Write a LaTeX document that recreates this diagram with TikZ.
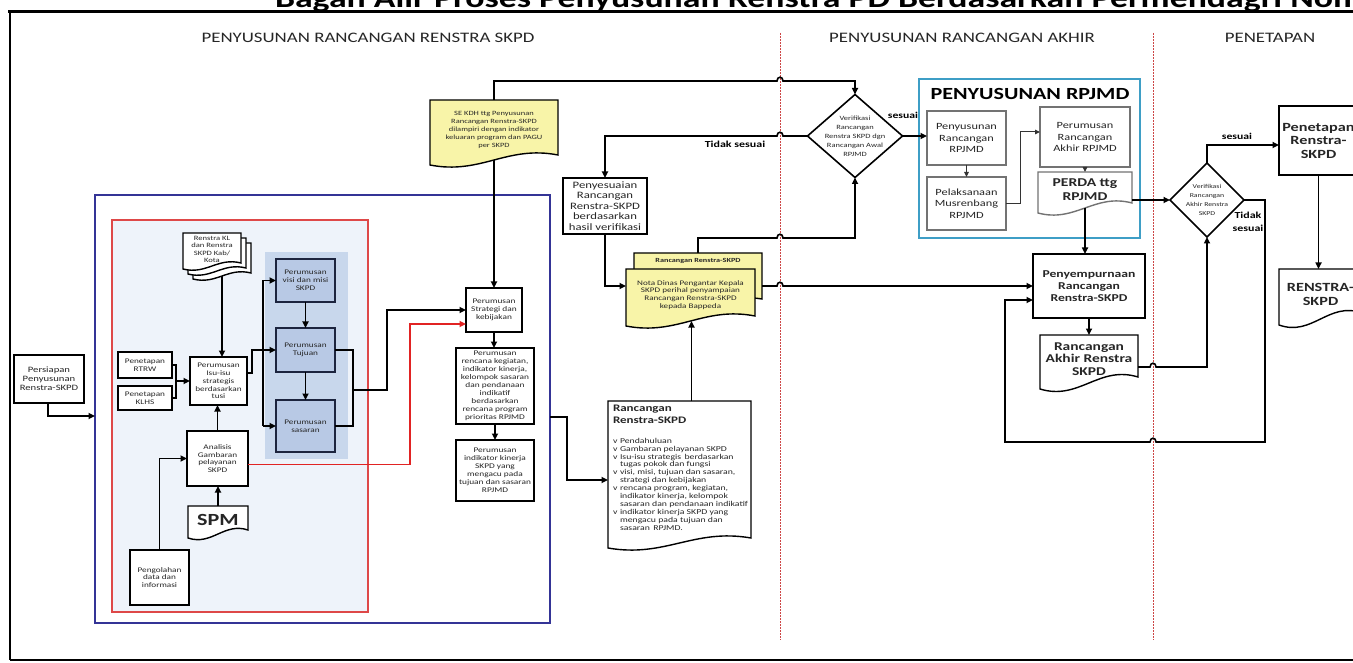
\documentclass[tikz,border=0pt]{standalone}
\usepackage{fontspec}
\setmainfont{Carlito}[FakeStretch=1.3]
\usetikzlibrary{calc,arrows.meta}
\definecolor{navy}{RGB}{52,52,150}
\definecolor{boxred}{RGB}{222,72,72}
\definecolor{redfill}{RGB}{238,243,250}
\definecolor{panelc}{RGB}{200,215,236}
\definecolor{darkbox}{RGB}{184,201,229}
\definecolor{darkedge}{RGB}{28,36,62}
\definecolor{docyellow}{RGB}{248,244,168}
\definecolor{tealc}{RGB}{62,158,198}
\definecolor{divred}{RGB}{205,70,70}
\definecolor{arrred}{RGB}{225,35,35}
\newcommand\fsz[2]{\fontsize{#1}{#2}\selectfont}
\newcommand\docshape[4][black]{%
  \filldraw[fill=#3, draw=#1, line width=1.4pt, line join=miter]
    (#2.north west) -- (#2.north east) -- ($(#2.south east)+(0,-#4)$)
    .. controls ($(#2.south east)!0.4!(#2.south west)+(0,-3*#4)$)
    and ($(#2.south west)!0.4!(#2.south east)+(0,3*#4)$)
    .. ($(#2.south west)+(0,#4)$) -- cycle;}
\pgfdeclarelayer{L0}
\pgfdeclarelayer{L1}
\pgfsetlayers{L0,L1,main}
\begin{document}
\begin{tikzpicture}[x=1pt,y=-1pt,
  every node/.style={inner sep=0pt, outer sep=0pt, text=black!85},
  sz/.style 2 args={minimum width=#1, minimum height=#2},
  ln/.style={line width=1.6pt, line join=miter},
  arr/.style={ln, -{Triangle[length=6.5pt,width=6pt]}},
  tarr/.style={line width=1pt, draw=black!80, -{Triangle[length=5pt,width=4.5pt]}},
  bx/.style={draw=black, line width=1.6pt, fill=white, align=center},
  dk/.style={draw=darkedge, line width=1.8pt, fill=darkbox, align=center},
  gbx/.style={draw=black!55, line width=1.1pt, fill=white, align=center},
  dc/.style={align=center},
  small/.style={font=\fsz{7.1}{7.8}},
  mid/.style={font=\fsz{7.2}{8}},
  rp/.style={font=\fsz{9.5}{11.5}},
  lbl/.style={font=\bfseries\fsz{9}{10}, text=black}
]
\useasboundingbox (0,0) rectangle (1353,663);
\clip (0,0) rectangle (1353,663);

% title and frame
\node[anchor=base west, font=\bfseries\fsz{27.5}{30}, text=black] (title) at (275,8) {Bagan Alir Proses Penyusunan Renstra PD Berdasarkan Permendagri Nom};
\draw[line width=3pt] (8,12) -- (1365,12);
\draw[line width=2.5pt] (10,11) -- (10,660);
\draw[line width=1.2pt] (10,660) -- (1365,660);

% section headers
\node[font=\fsz{14.5}{17}] (h1) at (368,38) {PENYUSUNAN RANCANGAN RENSTRA SKPD};
\node[font=\fsz{14.5}{17}] (h2) at (962,38) {PENYUSUNAN RANCANGAN AKHIR};
\node[font=\fsz{14.5}{17}] (h3) at (1270,38) {PENETAPAN};

% dividers
\draw[divred, line width=0.8pt, dash pattern=on 2pt off 1pt] (780,33) -- (780,640);
\draw[divred, line width=0.8pt, dash pattern=on 2pt off 1pt] (1153,33) -- (1153,640);

% containers
\begin{pgfonlayer}{L0}
\node[draw=navy, line width=1.6pt, fill=white, sz={455}{428}] (bluebox) at (322.5,409) {};
\node[draw=boxred, line width=1.4pt, fill=redfill, sz={256}{392}] (redbox) at (240,416) {};
\node[fill=panelc, sz={83}{207}] (panel) at (306.5,355.5) {};
\node[draw=tealc, line width=2pt, fill=white, sz={221}{159}] (rpjmdbox) at (1029.5,158.5) {};
\end{pgfonlayer}

% ---------- left part ----------
\node[bx, sz={70}{48}, font=\fsz{8.2}{8.8}] (persiapan) at (49,379) {Persiapan\\Penyusunan\\Renstra-SKPD};
\node[bx, small, sz={54}{26}] (rtrw) at (145,365) {Penetapan\\RTRW};
\node[bx, small, sz={54}{24}] (klhs) at (145,398) {Penetapan\\KLHS};
\node[bx, small, sz={57}{48}] (isu) at (218.5,381) {Perumusan\\Isu-isu\\strategis\\berdasarkan\\tusi};
\node[bx, small, sz={61}{55}] (analisis) at (217.5,458.5) {Analisis\\Gambaran\\pelayanan\\SKPD};
\node[bx, small, sz={59}{55}] (pengolahan) at (159.5,577.5) {Pengolahan\\data dan\\informasi};
\node[dk, small, sz={59}{43}] (visi) at (305.5,280.5) {Perumusan\\visi dan misi\\SKPD};
\node[dk, small, sz={59}{44}] (tujuan) at (305.5,350) {Perumusan\\Tujuan};
\node[dk, small, sz={59}{52}] (sasaran) at (305.5,426) {Perumusan\\sasaran};

% documents (shapes on layer L1)
\node[sz={58}{33}] (kl1) at (222,259.5) {};
\node[sz={58}{33}] (kl2) at (217,254.5) {};
\node[dc, font=\fsz{6.6}{7.6}, sz={58}{33}] (kl) at (212,249.5) {Renstra KL\\dan Renstra\\SKPD Kab/\\Kota};
\node[dc, sz={60}{28}, font=\bfseries\fsz{17}{18}] (spm) at (218,520) {SPM};
\node[dc, sz={128}{60}, font=\fsz{6.5}{7.9}] (sekdh) at (494,130) {SE KDH ttg Penyusunan\\Rancangan Renstra-SKPD\\dilampiri dengan indikator\\keluaran program dan PAGU\\per SKPD};
\node[sz={128}{50}] (rrback) at (698,278) {};
\node[font=\bfseries\fsz{6.3}{7}, anchor=north] (rrbacklbl) at ($(rrback.north)+(0,5)$) {Rancangan Renstra-SKPD};
\node[dc, sz={129}{52}, font=\fsz{7}{7.8}] (nota) at (690.5,295) {Nota Dinas Pengantar Kepala\\SKPD perihal penyampaian\\Rancangan Renstra-SKPD\\kepada Bappeda};
\node[sz={143}{142}] (rrdoc) at (679.5,472) {};
\node[anchor=north west, align=left, font=\bfseries\fsz{10}{12}] (rrtitle) at ($(rrdoc.north west)+(5,4)$) {Rancangan\\Renstra-SKPD};
\node[anchor=north west, align=left, font=\fsz{7.5}{7.9}] (rrlist) at ($(rrdoc.north west)+(5,37)$) {\makebox[7pt][l]{v}Pendahuluan\\
\makebox[7pt][l]{v}Gambaran pelayanan SKPD\\
\makebox[7pt][l]{v}Isu-isu strategis\, berdasarkan\\
\hspace*{7pt}tugas pokok dan fungsi\\
\makebox[7pt][l]{v}visi, misi, tujuan dan sasaran,\\
\hspace*{7pt}strategi dan kebijakan\\
\makebox[7pt][l]{v}rencana program, kegiatan,\\
\hspace*{7pt}indikator kinerja, kelompok\\
\hspace*{7pt}sasaran dan pendanaan indikatif\\
\makebox[7pt][l]{v}indikator kinerja SKPD yang\\
\hspace*{7pt}mengacu pada tujuan dan\\
\hspace*{7pt}sasaran\, RPJMD.};
\node[dc, sz={94}{36}, font=\bfseries\fsz{12}{14}] (perda) at (1085,190) {PERDA ttg\\RPJMD};
\node[dc, sz={98}{48}, font=\bfseries\fsz{11.9}{12.5}] (rakhir) at (1089,359) {Rancangan\\Akhir Renstra\\SKPD};
\node[dc, sz={83}{50}, font=\bfseries\fsz{12.5}{14}] (renstra) at (1320.5,294) {RENSTRA-\\SKPD};
\node[dc, sz={95}{83}, font=\fsz{6.5}{9}] (d1) at (855,136) {Verifikasi\\Rancangan\\Renstra SKPD dgn\\Rancangan Awal\\RPJMD};
\node[dc, sz={74}{74}, font=\fsz{6}{9}] (d2) at (1207,200) {Verifikasi\\Rancangan\\Akhir Renstra\\SKPD};

\begin{pgfonlayer}{L1}
\docshape{kl1}{white}{3}
\docshape{kl2}{white}{3}
\docshape{kl}{white}{3}
\docshape{spm}{white}{4}
\docshape{sekdh}{docyellow}{5}
\docshape{rrback}{docyellow}{4}
\docshape{nota}{docyellow}{5}
\docshape{rrdoc}{white}{5}
\docshape[black!55]{perda}{white}{5}
\docshape{rakhir}{white}{6}
\docshape{renstra}{white}{6}
\filldraw[fill=white, draw=black, line width=1.6pt] (d1.north) -- (d1.east) -- (d1.south) -- (d1.west) -- cycle;
\filldraw[fill=white, draw=black, line width=1.6pt] (d2.north) -- (d2.east) -- (d2.south) -- (d2.west) -- cycle;
\end{pgfonlayer}

% ---------- middle column ----------
\node[bx, mid, sz={56}{44}] (strategi) at (494,310) {Perumusan\\Strategi dan\\kebijakan};
\node[bx, mid, sz={78}{76}] (rencana) at (495,386) {Perumusan\\rencana kegiatan,\\indikator kinerja,\\kelompok sasaran\\dan pendanaan\\indikatif\\berdasarkan\\rencana program\\prioritas RPJMD};
\node[bx, mid, sz={78}{61}] (indikator) at (495,470.5) {Perumusan\\indikator kinerja\\SKPD yang\\mengacu pada\\tujuan dan sasaran\\RPJMD};
\node[bx, sz={84}{56}, font=\fsz{9.8}{10.5}] (penyesuaian) at (605,206) {Penyesuaian\\Rancangan\\Renstra-SKPD\\berdasarkan\\hasil verifikasi};

% ---------- RPJMD ----------
\node[font=\bfseries\fsz{17}{20}, text=black] (rpjmdtitle) at (1030,94) {PENYUSUNAN RPJMD};
\node[gbx, rp, sz={79}{54}] (penyran) at (966.5,138) {Penyusunan\\Rancangan\\RPJMD};
\node[gbx, rp, sz={79}{53}] (musren) at (966.5,203.5) {Pelaksanaan\\Musrenbang\\RPJMD};
\node[gbx, rp, sz={90}{60}] (perumakhir) at (1085,137) {Perumusan\\Rancangan\\Akhir RPJMD};
\node[bx, sz={112}{64}, font=\bfseries\fsz{10.5}{12}] (penyempurnaan) at (1089,286) {Penyempurnaan\\Rancangan\\Renstra-SKPD};
\node[bx, sz={79}{69}, font=\bfseries\fsz{12.5}{13.5}] (penetapan) at (1318.5,140.5) {Penetapan\\Renstra-\\SKPD};

% labels
\node[font=\bfseries\fsz{9.2}{10}, text=black] (lbltidak1) at (735,144) {Tidak sesuai};
\node[lbl] (lblsesuai1) at (903,115) {sesuai};
\node[lbl] (lblsesuai2) at (1237,136) {sesuai};
\node[font=\bfseries\fsz{9.2}{13}, align=center, text=black] (lbltidak2) at (1248,222) {Tidak\\sesuai};

% ---------- connectors ----------
\coordinate (pin) at (95,416);
\draw[arr] ($(persiapan.south)+(-1,0)$) |- (pin);
\draw[ln] (rtrw.east) -- ++(4,0) |- (klhs.east);
\coordinate (m1) at (176,381);
\draw[arr] (m1) -- (isu.west);
\draw[arr] (kl1.south) -- (kl1.south |- isu.north);
\draw[arr] (analisis.north) -- (analisis.north |- isu.south);
\draw[arr] (spm.north) -- (spm.north |- analisis.south);
\draw[arr] (pengolahan.north) |- (analisis.west);
\coordinate (bx) at (263,0);
\draw[ln] ($(isu.east)+(0,-8)$) -- ++(5,0) |- (tujuan.west -| bx);
\draw[ln] (visi.west -| bx) -- (sasaran.west -| bx);
\draw[arr] (visi.west -| bx) -- (visi.west);
\draw[arr] (tujuan.west -| bx) -- (tujuan.west);
\draw[arr] (sasaran.west -| bx) -- (sasaran.west);
\draw[arr] (visi.south) -- (tujuan.north);
\draw[arr] (tujuan.south) -- (sasaran.north);
\draw[ln] (tujuan.east) -- ++(18,0) |- (sasaran.east);
\coordinate (j1) at (353,390);
\draw[arr] (j1) -- ++(34,0) |- (strategi.west);
\draw[arr, draw=arrred] ($(analisis.east)+(0,6)$) -- ++(162,0) |- ($(strategi.west)+(0,14)$);

\draw[arr] (sekdh.north) -- ++(0,-19) -- (777,81) .. controls (777,76) and (783,76) .. (783,81) -| (d1.north);
\draw[arr] (sekdh.south) -- (sekdh.south |- strategi.north);
\draw[arr] (strategi.south) -- (strategi.south |- rencana.north);
\draw[arr] (rencana.south) -- (rencana.south |- indikator.north);
\coordinate (bout) at (550,417);
\draw[arr] (bout) -- ++(17,0) |- ($(rrdoc.west)+(0,8)$);
\draw[arr] ($(rrdoc.north)+(12,0)$) -- ($(nota.south)+(1,0)$);
\draw[arr] (d1.west) -- (783,136) .. controls (783,131) and (777,131) .. (777,136) -| (penyesuaian.north);
\draw[arr] (penyesuaian.south) |- ($(nota.west)+(0,-9)$);
\draw[arr] (rrback.north) -- ++(0,-15) -- (777,238) .. controls (777,233) and (783,233) .. (783,238) -| (d1.south);
\draw[arr] ($(rrback.east)+(0,8)$) -- (777,286) .. controls (777,281) and (783,281) .. (783,286) -- (penyempurnaan.west);
\draw[arr] (d1.east) -- (d1.east -| penyran.west);

\draw[tarr] (penyran.south) -- (musren.north);
\draw[tarr] (musren.east) -- ++(14,0) |- ($(perumakhir.west)+(0,-5)$);
\draw[tarr] (perumakhir.south) -- (perumakhir.south |- perda.north);
\draw[arr] (perda.south) -- (perda.south |- penyempurnaan.north);
\draw[arr] (perda.east |- d2.west) -- (d2.west);
\draw[arr] (d2.north) |- ($(penetapan.west)+(0,4.5)$);
\draw[arr] (d2.east) -- ++(21,0) -- ++(0,242) -- (1156,442) .. controls (1156,437) and (1150,437) .. (1150,442) -- (1005,442) |- ($(penyempurnaan.west)+(0,14)$);
\draw[arr] (penyempurnaan.south) -- (penyempurnaan.south |- rakhir.north);
\draw[arr] ($(rakhir.east)+(0,8)$) -- (1150,367) .. controls (1150,362) and (1156,362) .. (1156,367) -| (d2.south);
\draw[arr] (penetapan.south) -- (penetapan.south |- renstra.north);
\end{tikzpicture}
\end{document}
